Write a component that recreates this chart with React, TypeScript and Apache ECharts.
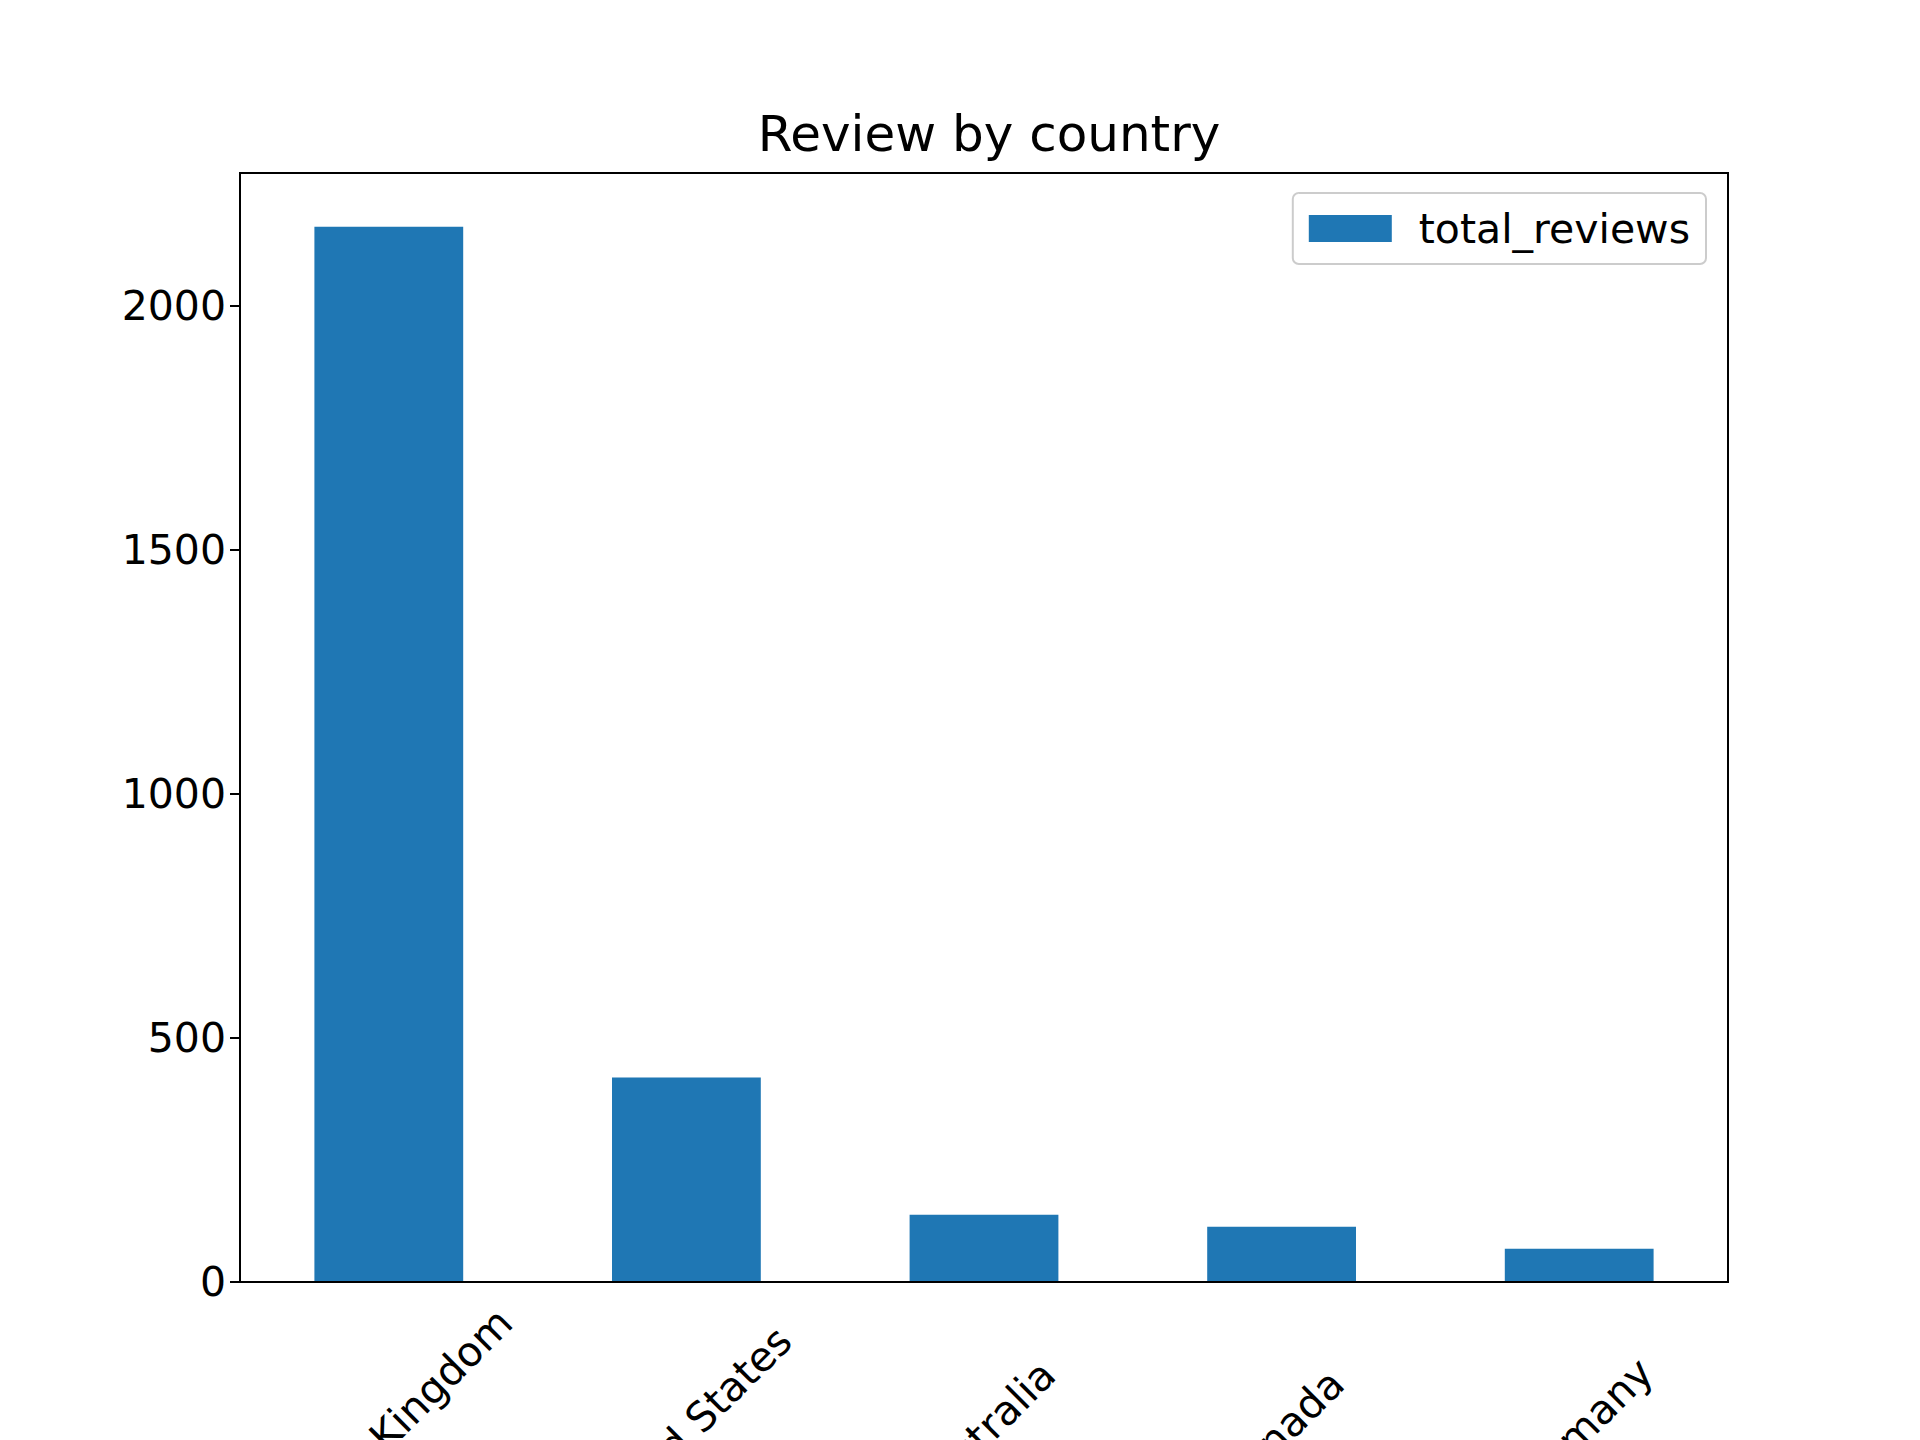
import { useEffect, useRef } from 'react';
import * as echarts from 'echarts';

const countries = ['United Kingdom', 'United States', 'Australia', 'Canada', 'Germany'];
const totalReviews = [2163, 419, 138, 113, 68];

export default function App() {
  const chartRef = useRef<HTMLDivElement>(null);

  useEffect(() => {
    if (!chartRef.current) return;
    const chart = echarts.init(chartRef.current, null, { renderer: 'svg' });
    const font = 'DejaVu Sans';
    chart.setOption({
      animation: false,
      textStyle: { fontFamily: font },
      title: {
        text: 'Review by country',
        left: 984,
        top: 104,
        textAlign: 'center',
        textStyle: { fontFamily: font, fontSize: 50, fontWeight: 'normal', color: '#000' },
      },
      legend: {
        right: 1920 - 1706,
        top: 193,
        itemWidth: 83,
        itemHeight: 27,
        padding: [15, 16, 15, 16],
        borderColor: '#cccccc',
        borderWidth: 2,
        borderRadius: 6,
        textStyle: { fontFamily: font, fontSize: 41, color: '#000', padding: [0, 0, 0, 22] },
        data: [{ name: 'total_reviews', icon: 'rect' }],
      },
      grid: {
        left: 240,
        right: 1920 - 1728,
        top: 173,
        bottom: 1440 - 1282,
        containLabel: false,
        outerBoundsMode: 'none',
      },
      xAxis: {
        type: 'category',
        data: countries,
        axisLine: { lineStyle: { color: '#000', width: 2 } },
        axisTick: { alignWithLabel: true, length: 10, lineStyle: { color: '#000', width: 2 } },
        axisLabel: {
          rotate: 45,
          align: 'center',
          verticalAlign: 'middle',
          margin: 150,
          fontSize: 41,
          color: '#000',
          fontFamily: font,
        },
      },
      yAxis: {
        type: 'value',
        min: 0,
        max: 2273,
        interval: 500,
        splitLine: { show: false },
        axisLine: { show: true, lineStyle: { color: '#000', width: 2 } },
        axisTick: { show: true, length: 10, lineStyle: { color: '#000', width: 2 } },
        axisLabel: {
          fontSize: 41,
          color: '#000',
          fontFamily: font,
          margin: 14,
          showMaxLabel: false,
          formatter: (v: number) => String(v),
        },
      },
      series: [
        {
          name: 'total_reviews',
          type: 'bar',
          data: totalReviews,
          barWidth: '50%',
          itemStyle: { color: '#1f77b4' },
        },
      ],
      graphic: [
        {
          type: 'rect',
          shape: { x: 240, y: 173, width: 1488, height: 1109 },
          style: { fill: 'none', stroke: '#000', lineWidth: 2 },
          silent: true,
          z: 10,
        },
      ],
    });
    return () => chart.dispose();
  }, []);

  return (
    <div
      ref={chartRef}
      style={{ position: 'absolute', left: 0, top: 0, width: '1920px', height: '1440px', background: '#fff' }}
    ></div>
  );
}
